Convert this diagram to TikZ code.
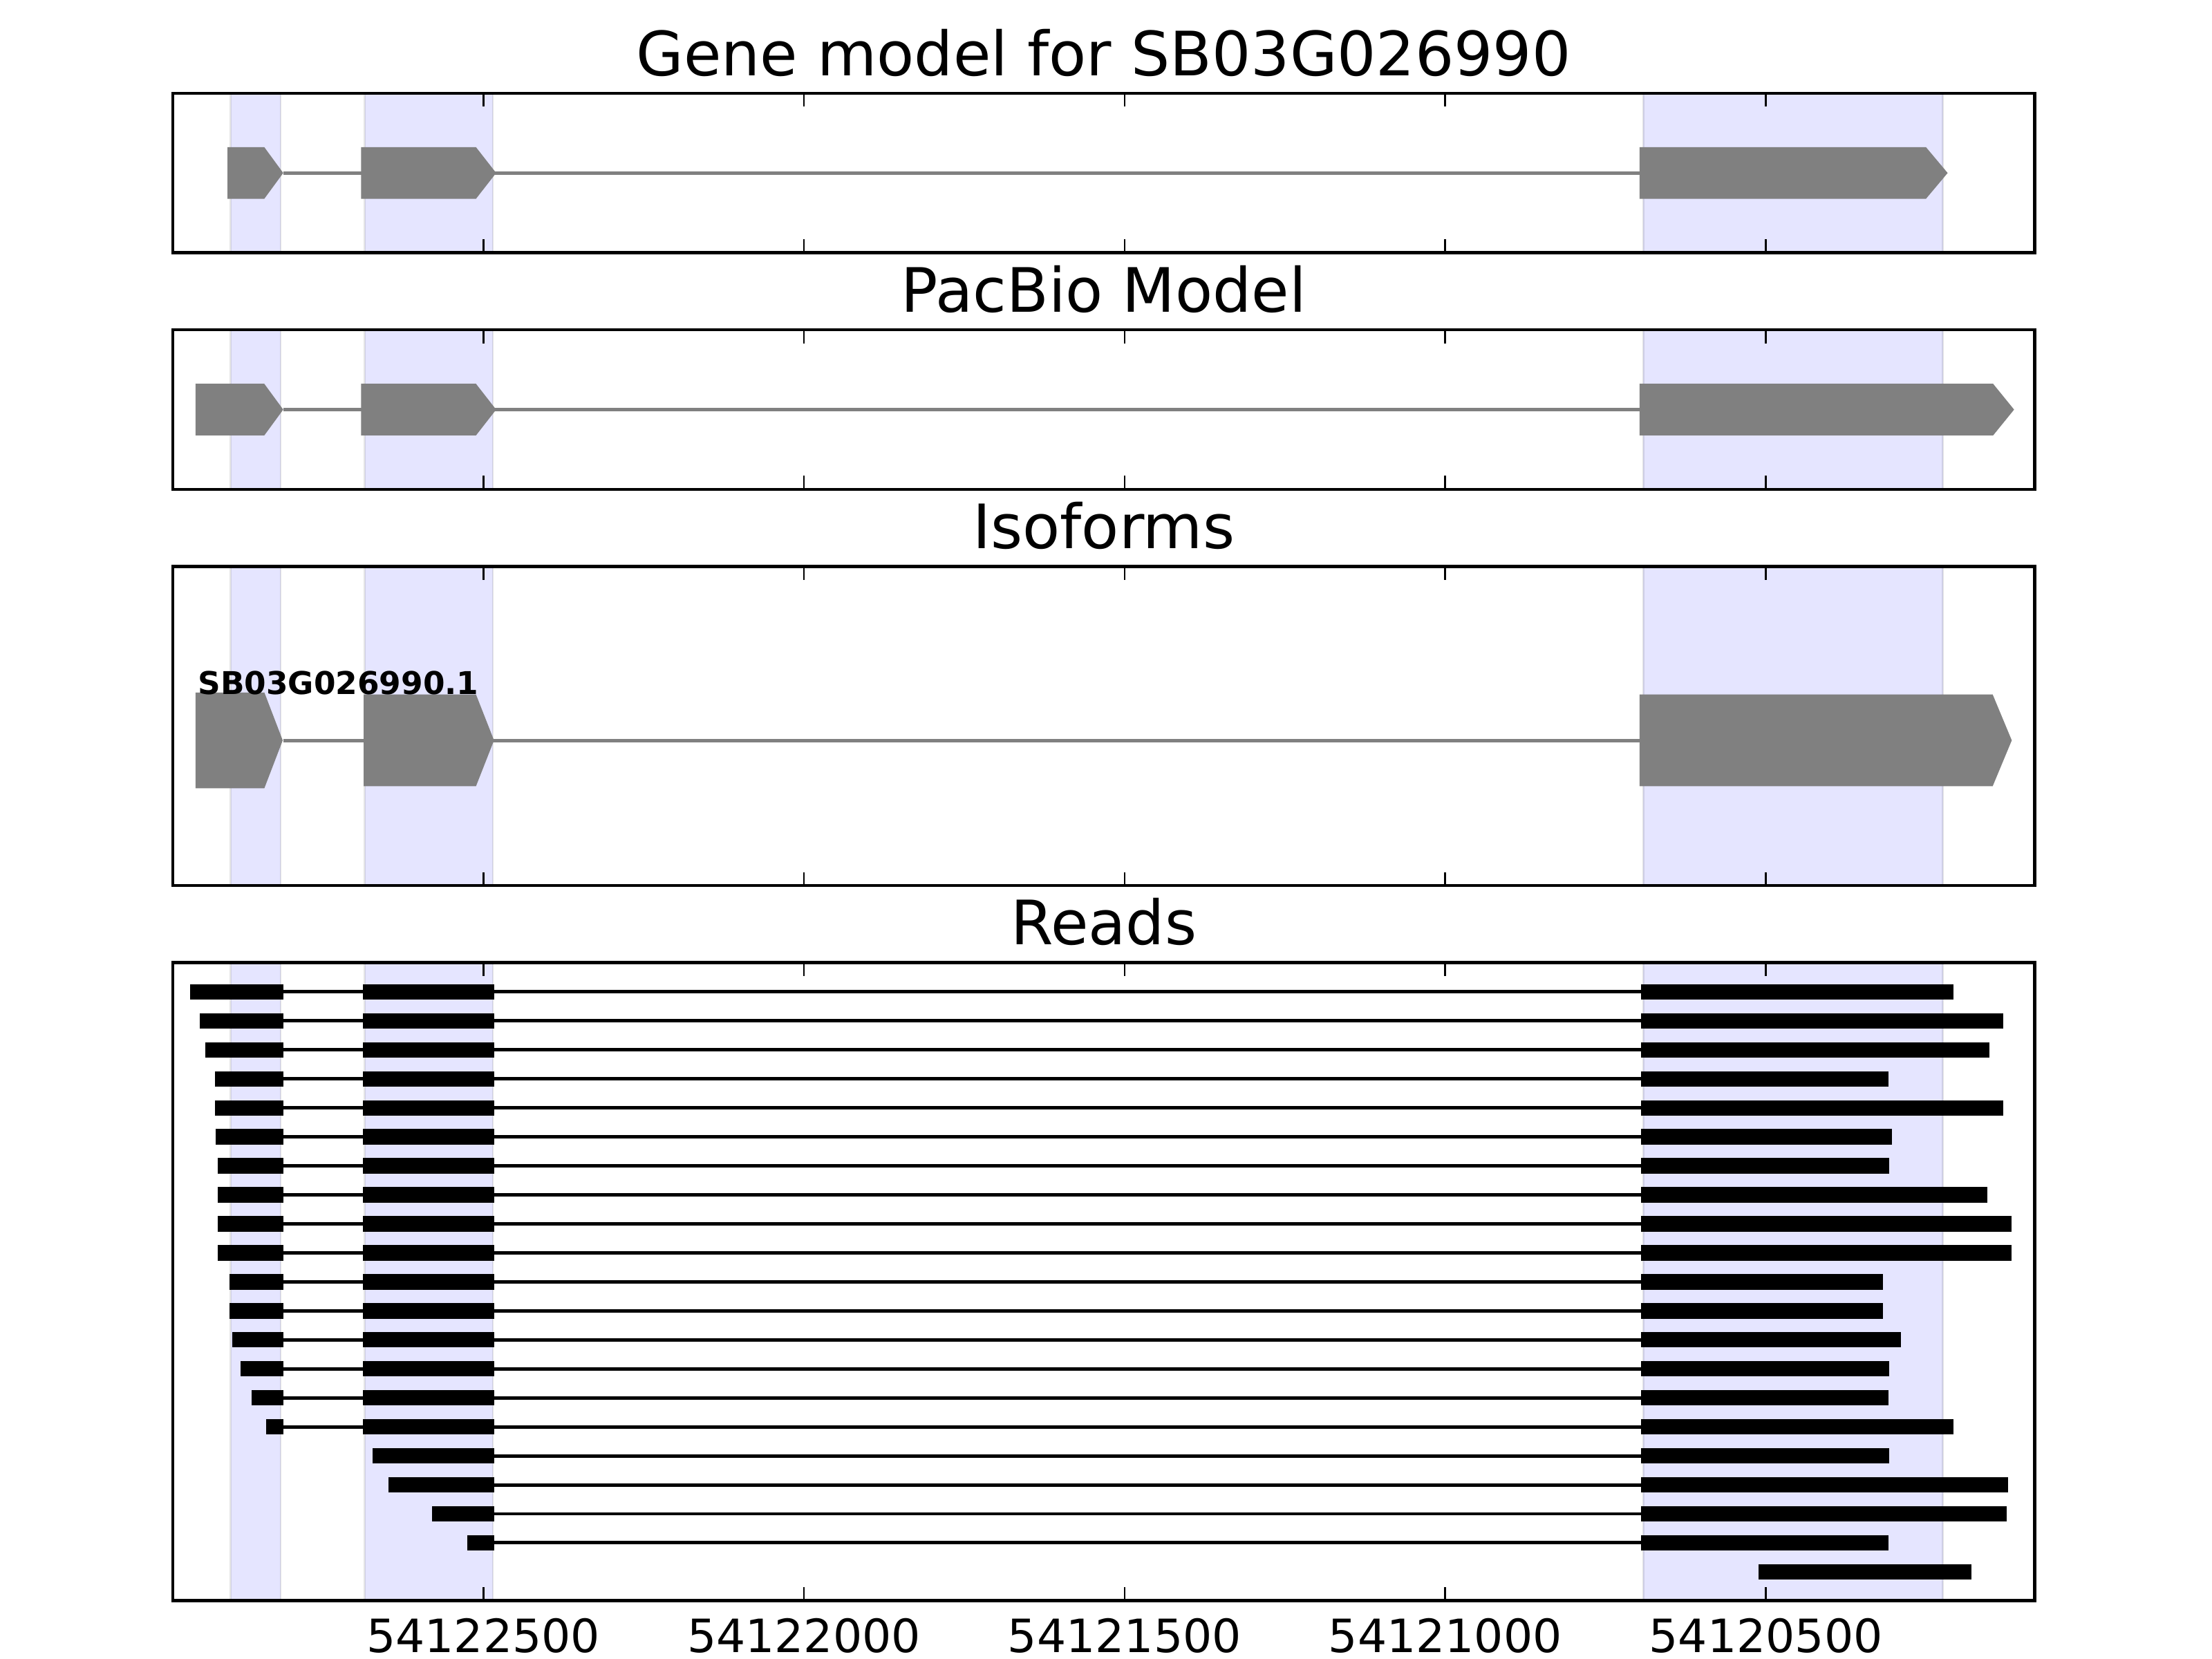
\documentclass[tikz,border=0pt]{standalone}
\usepackage{fontspec}
\setmainfont{DejaVu Sans}
\usepackage{tikz}
\tikzset{
  frame/.style={line width=0.8pt},
  tickmark/.style={line width=0.5pt},
  band/.style={fill=blue,fill opacity=0.1,draw=black,draw opacity=0.1,line width=0.5pt},
  exon/.style={fill=gray},
  intron/.style={draw=gray,line width=0.9pt},
  readbox/.style={fill=black},
  readline/.style={draw=black,line width=0.9pt},
  paneltitle/.style={font=\fontsize{16}{19}\selectfont,anchor=base,inner sep=0pt},
  ticklabel/.style={font=\fontsize{12}{14}\selectfont,anchor=base,inner sep=0pt},
  isolabel/.style={font=\fontsize{8.2}{10}\selectfont\bfseries,anchor=base west,inner sep=0pt}}
% x is bp above 54120000 (axis runs backwards), y is pixels down
\newcommand{\xlo}{2984}
\newcommand{\xhi}{81}
\newcommand{\ticklen}{19.4}
\newcommand{\gpanel}[4]{%
  \foreach \bl/\br in {2894/2816,2685/2485,691/224}{\path[band] (\bl,#2) rectangle (\br,#3);}
  \draw[frame] (\xlo,#2) rectangle (\xhi,#3);
  \foreach \t in {500,1000,...,2500}{%
    \draw[tickmark] (\t,#2) -- ++(0,\ticklen);
    \draw[tickmark] (\t,#3) -- ++(0,-\ticklen);}
  \node[paneltitle] (#1) at ({(\xlo+\xhi)/2},{#2-25.7}) {#4};}
\newcommand{\gexon}[5]{%
  \fill[exon] (#1,{#4-#5}) -- (#2,{#4-#5}) -- (#3,#4) -- (#2,{#4+#5}) -- (#1,{#4+#5}) -- cycle;}
\newcommand{\rowy}[1]{\pgfmathsetmacro{\ry}{1433.5+41.91*(#1-1)}}
\newcommand{\readfull}[3]{\rowy{#1}%
  \draw[readline] (2812,\ry) -- (695,\ry);
  \fill[readbox] (#2,{\ry-11.15}) rectangle (2812,{\ry+11.15});
  \fill[readbox] (2688,{\ry-11.15}) rectangle (2483,{\ry+11.15});
  \fill[readbox] (695,{\ry-11.15}) rectangle (#3,{\ry+11.15});}
\newcommand{\readpart}[3]{\rowy{#1}%
  \draw[readline] (2483,\ry) -- (695,\ry);
  \fill[readbox] (#2,{\ry-11.15}) rectangle (2483,{\ry+11.15});
  \fill[readbox] (695,{\ry-11.15}) rectangle (#3,{\ry+11.15});}

\begin{document}
\begin{tikzpicture}
  \useasboundingbox (0,0) rectangle (8in,-6in);
  \begin{scope}[xshift=7.54625in,x={(-0.002315in,0)},y={(0,-0.0025in)}]
  % gene model
  \gpanel{gm}{134.7}{365.2}{Gene model for SB03G026990}
  \draw[intron] (2812,250) -- (697,250);
  \gexon{2899}{2841.5}{2812}{250}{37.3}
  \gexon{2690.6}{2511.4}{2480}{250}{37.3}
  \gexon{696.9}{250.4}{216.6}{250}{37.3}
  % pacbio
  \gpanel{pb}{476.7}{707.2}{PacBio Model}
  \draw[intron] (2812,592) -- (697,592);
  \gexon{2948.8}{2841.5}{2812}{592}{37.3}
  \gexon{2690.6}{2511.4}{2480}{592}{37.3}
  \gexon{696.9}{145.7}{113}{592}{37.3}
  % isoforms
  \gpanel{iso}{818.7}{1279.7}{Isoforms}
  \draw[intron] (2812,1070) -- (697,1070);
  \gexon{2948.8}{2841.4}{2812.8}{1070}{69.2}
  \gexon{2686.6}{2511.4}{2483.3}{1070}{66.3}
  \gexon{696.9}{146.4}{116.6}{1070}{66.3}
  \node[isolabel] (isoname) at (2946,1004) {SB03G026990.1};
  % reads
  \gpanel{rd}{1391.2}{2313.2}{Reads}
  \foreach \s/\e [count=\r] in {2957/207,2942/130,2934/151,2918/309,2918/130,2917/304,
    2914/308,2914/155,2914/117,2914/117,2896/318,2896/318,2891/289,2879/308,2861/309,2839/207}
    {\readfull{\r}{\s}{\e}}
  \foreach \s/\e [count=\r from 17] in {2673/308,2648/122,2580/124,2525/309}
    {\readpart{\r}{\s}{\e}}
  \fill[readbox] (512,{2271.7-11.15}) rectangle (180,{2271.7+11.15});
  \foreach \t in {500,1000,...,2500}{%
    \node[ticklabel] (tl\t) at (\t,2388.3) {\the\numexpr54120000+\t\relax};}
  \end{scope}
\end{tikzpicture}
\end{document}
